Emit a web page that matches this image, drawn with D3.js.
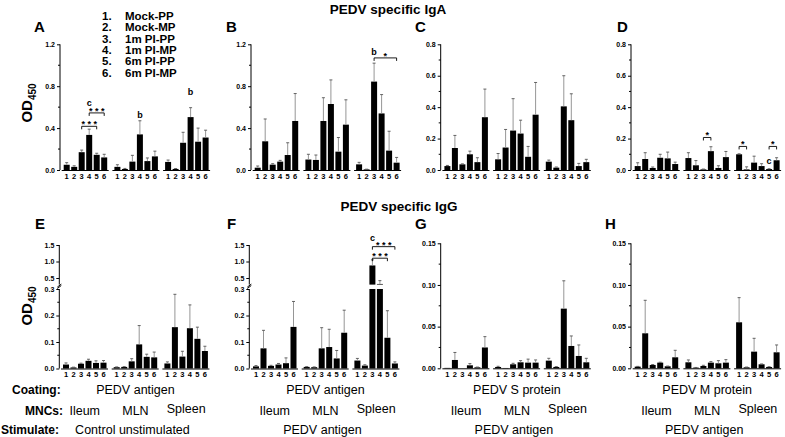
<!DOCTYPE html>
<html><head><meta charset="utf-8">
<script src="https://cdn.jsdelivr.net/npm/d3@7"></script>
<style>body{margin:0;background:#fff} text{font-family:Arial,"Liberation Sans",sans-serif}</style>
</head><body><svg id="c" width="785" height="437"></svg>
<script>
// ---------- data ----------
const groups = ["Ileum", "MLN", "Spleen"];
const barLabels = ["1", "2", "3", "4", "5", "6"];
const legendNums = ["1.", "2.", "3.", "4.", "5.", "6."];
const legendNames = ["Mock-PP", "Mock-MP", "1m PI-PP", "1m PI-MP", "6m PI-PP", "6m PI-MP"];
const titles = ["PEDV specific IgA", "PEDV specific IgG"];

const A_mean = [0.05,0.03,0.17,0.335,0.145,0.12, 0.03,0.01,0.08,0.34,0.085,0.13, 0.077,0.01,0.26,0.505,0.27,0.31];
const A_sem  = [0.02,0.01,0.02,0.055,0.015,0.03, 0.02,0.005,0.06,0.13,0.03,0.05, 0.018,0.004,0.1,0.09,0.13,0.07];
const B_mean = [0.022,0.274,0.051,0.08,0.143,0.468, 0.10,0.096,0.468,0.63,0.175,0.433, 0.054,0.006,0.844,0.54,0.185,0.07];
const B_sem  = [0.016,0.213,0.009,0.012,0.117,0.262, 0.05,0.047,0.222,0.23,0.135,0.237, 0.019,0.002,0.176,0.18,0.185,0.05];
const C_mean = [0.025,0.14,0.036,0.1,0.05,0.336, 0.068,0.143,0.251,0.232,0.084,0.352, 0.053,0.015,0.405,0.317,0.025,0.05];
const C_sem  = [0.004,0.08,0.003,0.02,0.028,0.179, 0.037,0.115,0.203,0.085,0.066,0.205, 0.01,0.004,0.195,0.168,0.017,0.018];
const D_mean = [0.025,0.07,0.013,0.078,0.074,0.038, 0.076,0.03,0.004,0.12,0.013,0.082, 0.1,0.004,0.047,0.025,0.006,0.062];
const D_sem  = [0.021,0.04,0.006,0.022,0.04,0.012, 0.034,0.03,0.002,0.028,0.014,0.036, 0.003,0.016,0.041,0.015,0.002,0.016];
const E_mean = [0.015,0.004,0.018,0.029,0.021,0.022, 0.005,0.006,0.027,0.091,0.044,0.042, 0.019,0.156,0.045,0.152,0.112,0.066];
const E_sem  = [0.006,0.001,0.002,0.006,0.008,0.008, 0.001,0.001,0.01,0.071,0.01,0.02, 0.006,0.124,0.02,0.088,0.044,0.018];
const F_mean = [0.008,0.076,0.01,0.015,0.02,0.157, 0.006,0.005,0.076,0.081,0.038,0.135, 0.03,0.011,0.88,0.32,0.116,0.019];
const F_sem  = [0.003,0.068,0.002,0.004,0.02,0.096, 0.001,0.001,0.078,0.067,0.03,0.085, 0.008,0.003,0.17,0.1,0.102,0.006];
const G_mean = [0.0005,0.01,0,0.0036,0.0012,0.025, 0.0016,0.0004,0.0048,0.0072,0.0068,0.0068, 0.0092,0.0016,0.0716,0.0268,0.0148,0.0072];
const G_sem  = [0,0.009,0,0.002,0.0003,0.013, 0.0008,0,0.0012,0.002,0.0042,0.0032, 0.0028,0.0004,0.0334,0.012,0.0132,0.0048];
const H_mean = [0.002,0.042,0.004,0.0068,0.0024,0.0132, 0.0072,0.0008,0.0028,0.0068,0.006,0.0068, 0.0552,0.0012,0.02,0.0048,0.0016,0.0192];
const H_sem  = [0.0003,0.0396,0.0005,0.0005,0.0003,0.0084, 0.0028,0.0002,0.0008,0.0012,0.0032,0.0036, 0.0296,0.0003,0.016,0.0004,0.0003,0.0088];

const ticksAB = [0, 0.4, 0.8, 1.2];
const ticksCD = [0, 0.2, 0.4, 0.6, 0.8];
const ticksLow = [0, 0.1, 0.2, 0.3];
const ticksHigh = [0.5, 1.0, 1.5];
const ticksGH = [0, 0.05, 0.10, 0.15];

// annotations: [group, bar, value, text]
const A_letters = [[0,3,0.645,"c"],[1,3,0.523,"b"],[2,3,0.744,"b"]];
const A_brackets = [[0,3,5,0.545,"* * *"],[0,2,4,0.417,"* * *"]];
const B_letters = [[2,2,1.13,"b"]];
const B_brackets = [[2,2,5,1.07,"*"]];
const D_letters = [[2,4,0.057,"c"]];
const D_brackets = [[1,2,3,0.207,"*"],[2,0,1,0.15,"*"],[2,4,5,0.15,"*"]];
const F_letters = [[2,2,1.72,"c"]];
const F_brackets = [[2,2,5,1.45,"* * *"],[2,2,4,1.10,"* * *"]];

const bottomRows = {
  E: ["PEDV antigen", "Control unstimulated"],
  F: ["PEDV antigen", "PEDV antigen"],
  G: ["PEDV S protein", "PEDV antigen"],
  H: ["PEDV M protein", "PEDV antigen"]
};
const rowHeads = ["Coating:", "MNCs:", "Stimulate:"];

// ---------- drawing ----------
const svg = d3.select("#c");
const FONT = 'Arial,"Liberation Sans",sans-serif';

function drawPanel(p) {
  const g = svg.append("g");
  const nPos = 2 * 6.76 + 5;
  const x = d3.scaleLinear().domain([0, nPos]).range([p.ax + 6.7, p.ax + 6.7 + nPos * 7.5]);
  const pos = (gi, b) => x(gi * 6.76 + b);
  let yv, lower, upper;
  if (p.broken) {
    lower = d3.scaleLinear().domain([0, 0.3]).range([368.5, 289]);
    upper = d3.scaleLinear().domain([0.3, 1.5]).range([284.6, 245]);
    yv = v => v <= 0.3 ? lower(v) : upper(v);
  } else {
    const s = d3.scaleLinear().domain([0, p.max]).range([p.y0, p.yTop]);
    yv = s; lower = s;
  }
  const y0 = yv(0);
  if (p.broken) {
    g.append("line").attr("x1", p.ax).attr("x2", p.ax).attr("y1", lower(0)).attr("y2", lower(0.3)).attr("stroke", "#000");
    g.append("line").attr("x1", p.ax).attr("x2", p.ax).attr("y1", upper(0.3)).attr("y2", upper(1.5)).attr("stroke", "#000");
    g.append("path").attr("d", `M${p.ax-2},${lower(0.3)-0.5} q2,-1.5 4,-3`).attr("stroke", "#000").attr("fill", "none");
    g.append("path").attr("d", `M${p.ax-2},${upper(0.3)+2.5} q2,-1.5 4,-3`).attr("stroke", "#000").attr("fill", "none");
    const t1 = d3.axisLeft(lower).tickValues(ticksLow).tickSize(3).tickFormat(d3.format(".1f"));
    const t2 = d3.axisLeft(upper).tickValues(ticksHigh).tickSize(3).tickFormat(d3.format(".1f"));
    [t1, t2].forEach(ax => {
      const a = g.append("g").attr("transform", `translate(${p.ax},0)`).call(ax);
      a.select(".domain").remove();
    });
    [0.05, 0.15, 0.25].forEach(v => g.append("line").attr("x1", p.ax - 2).attr("x2", p.ax).attr("y1", lower(v)).attr("y2", lower(v)).attr("stroke", "#000"));
  } else {
    g.append("line").attr("x1", p.ax).attr("x2", p.ax).attr("y1", p.y0).attr("y2", p.yTop).attr("stroke", "#000");
    const a = g.append("g").attr("transform", `translate(${p.ax},0)`)
      .call(d3.axisLeft(yv).tickValues(p.ticks).tickSize(3).tickFormat(d3.format(p.fmt)));
    a.select(".domain").remove();
    for (let i = 0; i < p.ticks.length - 1; i++) {
      const v = (p.ticks[i] + p.ticks[i + 1]) / 2;
      g.append("line").attr("x1", p.ax - 2).attr("x2", p.ax).attr("y1", yv(v)).attr("y2", yv(v)).attr("stroke", "#000");
    }
  }
  g.selectAll(".tick text").attr("font-size", 7).attr("font-weight", "bold").attr("font-family", FONT).attr("x", -5).attr("fill", "#000");
  g.selectAll(".tick line").attr("stroke", "#000");

  p.mean.forEach((m, i) => {
    const gi = Math.floor(i / 6), b = i % 6, cx = pos(gi, b);
    if (p.broken && m > 0.3) {
      g.append("rect").attr("x", cx - 3).attr("width", 6).attr("y", lower(0.3)).attr("height", y0 - lower(0.3)).attr("fill", "#000");
      g.append("rect").attr("x", cx - 3).attr("width", 6).attr("y", upper(m)).attr("height", upper(0.3) - upper(m)).attr("fill", "#000");
    } else {
      g.append("rect").attr("x", cx - 3).attr("width", 6).attr("y", yv(m)).attr("height", y0 - yv(m)).attr("fill", "#000");
    }
    const s = p.sem[i];
    if (s > 0) {
      const top = yv(m + s);
      g.append("line").attr("x1", cx).attr("x2", cx).attr("y1", yv(m)).attr("y2", top).attr("stroke", "#8a8a8a").attr("stroke-width", 0.9);
      g.append("line").attr("x1", cx - 1.5).attr("x2", cx + 1.5).attr("y1", top).attr("y2", top).attr("stroke", "#555").attr("stroke-width", 0.9);
    }
  });
  for (let gi = 0; gi < 3; gi++) {
    g.append("line").attr("x1", pos(gi, 0) - 5).attr("x2", pos(gi, 5) + 4.5).attr("y1", y0 + 0.5).attr("y2", y0 + 0.5).attr("stroke", "#000");
    barLabels.forEach((lb, b) => {
      g.append("text").attr("x", pos(gi, b)).attr("y", y0 + 8.5).attr("text-anchor", "middle")
        .attr("font-size", 7.5).attr("font-weight", "bold").text(lb);
    });
  }
  (p.letters || []).forEach(([gi, b, v, t]) => {
    g.append("text").attr("x", pos(gi, b)).attr("y", yv(v)).attr("dy", "0.35em").attr("text-anchor", "middle")
      .attr("font-size", 9).attr("font-weight", "bold").text(t);
  });
  (p.brackets || []).forEach(([gi, b1, b2, v, t]) => {
    const yy = yv(v), x1 = pos(gi, b1), x2 = pos(gi, b2);
    g.append("path").attr("d", `M${x1},${yy + 3}V${yy}H${x2}V${yy + 3}`).attr("stroke", "#000").attr("fill", "none").attr("stroke-width", 0.9);
    g.append("text").attr("x", (x1 + x2) / 2).attr("y", yy + 1).attr("text-anchor", "middle")
      .attr("font-size", 9).attr("font-weight", "bold").text(t);
  });
  g.append("text").attr("x", p.lx).attr("y", p.ly).attr("font-size", 15).attr("font-weight", "bold").text(p.letter);
  if (p.bottom) {
    const cx = pos(1, 2.5);
    g.append("text").attr("x", cx).attr("y", 394).attr("text-anchor", "middle").attr("font-size", 12.5).text(p.bottom[0]);
    groups.forEach((gname, gi) => {
      g.append("text").attr("x", pos(gi, 2.5)).attr("y", gi === 2 ? 413 : 415)
        .attr("text-anchor", "middle").attr("font-size", 12.5).text(gname);
    });
    g.append("text").attr("x", cx - 3).attr("y", 433.5).attr("text-anchor", "middle").attr("font-size", 12.5).text(p.bottom[1]);
  }
}

const topCfg = { y0: 170, yTop: 44.3 };
drawPanel({letter:"A", lx:34, ly:32, ax:60, ...topCfg, max:1.2, ticks:ticksAB, fmt:".1f", mean:A_mean, sem:A_sem, letters:A_letters, brackets:A_brackets});
drawPanel({letter:"B", lx:226, ly:32, ax:251, ...topCfg, max:1.2, ticks:ticksAB, fmt:".1f", mean:B_mean, sem:B_sem, letters:B_letters, brackets:B_brackets});
drawPanel({letter:"C", lx:415, ly:32, ax:440.7, ...topCfg, max:0.8, ticks:ticksCD, fmt:".1f", mean:C_mean, sem:C_sem});
drawPanel({letter:"D", lx:617, ly:32, ax:631, ...topCfg, max:0.8, ticks:ticksCD, fmt:".1f", mean:D_mean, sem:D_sem, letters:D_letters, brackets:D_brackets});
drawPanel({letter:"E", lx:35, ly:229, ax:59.3, broken:true, mean:E_mean, sem:E_sem, bottom:bottomRows.E});
drawPanel({letter:"F", lx:227, ly:229, ax:249.3, broken:true, mean:F_mean, sem:F_sem, letters:F_letters, brackets:F_brackets, bottom:bottomRows.F});
drawPanel({letter:"G", lx:415, ly:229, ax:440.7, y0:368.3, yTop:243.3, max:0.15, ticks:ticksGH, fmt:".2f", mean:G_mean, sem:G_sem, bottom:bottomRows.G});
drawPanel({letter:"H", lx:605, ly:229, ax:631, y0:368.3, yTop:243.3, max:0.15, ticks:ticksGH, fmt:".2f", mean:H_mean, sem:H_sem, bottom:bottomRows.H});

svg.append("text").attr("x", 388).attr("y", 14).attr("text-anchor", "middle").attr("font-size", 13.5).attr("font-weight", "bold").text(titles[0]);
svg.append("text").attr("x", 399).attr("y", 211).attr("text-anchor", "middle").attr("font-size", 13.5).attr("font-weight", "bold").text(titles[1]);

legendNums.forEach((n, i) => {
  const yy = 20 + i * 11.3;
  svg.append("text").attr("x", 102).attr("y", yy).attr("font-size", 11.5).attr("font-weight", "bold").text(n);
  svg.append("text").attr("x", 125).attr("y", yy).attr("font-size", 11.5).attr("font-weight", "bold").text(legendNames[i]);
});

[[27, 103], [27, 306]].forEach(([cx, cy]) => {
  const t = svg.append("text").attr("transform", `translate(${cx + 5},${cy}) rotate(-90)`).attr("text-anchor", "middle")
    .attr("font-size", 15).attr("font-weight", "bold");
  t.append("tspan").text("OD");
  t.append("tspan").attr("font-size", 10).attr("dy", 4).text("450");
});

svg.append("text").attr("x", 12).attr("y", 394).attr("font-size", 12).attr("font-weight", "bold").text(rowHeads[0]);
svg.append("text").attr("x", 25).attr("y", 414.5).attr("font-size", 12).attr("font-weight", "bold").text(rowHeads[1]);
svg.append("text").attr("x", 1).attr("y", 433.5).attr("font-size", 12).attr("font-weight", "bold").text(rowHeads[2]);
</script></body></html>
